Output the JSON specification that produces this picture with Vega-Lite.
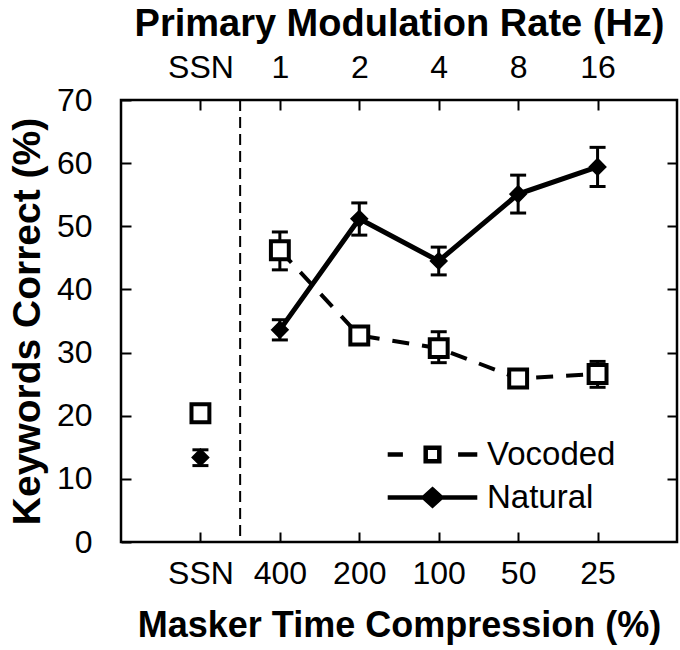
{
  "$schema": "https://vega.github.io/schema/vega-lite/v6.json",
  "width": 556,
  "height": 442,
  "autosize": "none",
  "padding": {"left": 121, "top": 100, "right": 3, "bottom": 108},
  "background": "white",
  "data": {
    "values": [
      {"type": "Vocoded", "pos": 1, "compression": "SSN", "rate": "SSN", "mean": 20.4, "lo": 19.6, "hi": 21.2},
      {"type": "Vocoded", "pos": 2, "compression": "400", "rate": "1", "mean": 46.2, "lo": 43.1, "hi": 49.1},
      {"type": "Vocoded", "pos": 3, "compression": "200", "rate": "2", "mean": 32.7, "lo": 31.7, "hi": 33.7},
      {"type": "Vocoded", "pos": 4, "compression": "100", "rate": "4", "mean": 30.7, "lo": 28.4, "hi": 33.3},
      {"type": "Vocoded", "pos": 5, "compression": "50", "rate": "8", "mean": 25.9, "lo": 24.9, "hi": 26.9},
      {"type": "Vocoded", "pos": 6, "compression": "25", "rate": "16", "mean": 26.6, "lo": 24.5, "hi": 28.6},
      {"type": "Natural", "pos": 1, "compression": "SSN", "rate": "SSN", "mean": 13.4, "lo": 12.1, "hi": 14.6},
      {"type": "Natural", "pos": 2, "compression": "400", "rate": "1", "mean": 33.6, "lo": 32.0, "hi": 35.2},
      {"type": "Natural", "pos": 3, "compression": "200", "rate": "2", "mean": 51.2, "lo": 48.6, "hi": 53.7},
      {"type": "Natural", "pos": 4, "compression": "100", "rate": "4", "mean": 44.5, "lo": 42.3, "hi": 46.7},
      {"type": "Natural", "pos": 5, "compression": "50", "rate": "8", "mean": 55.1, "lo": 52.1, "hi": 58.1},
      {"type": "Natural", "pos": 6, "compression": "25", "rate": "16", "mean": 59.4, "lo": 56.3, "hi": 62.5}
    ]
  },
  "layer": [
    {
      "data": {"values": [{"divider": "SSN | modulated"}]},
      "mark": {"type": "rule", "strokeDash": [11, 6], "strokeWidth": 2, "color": "black"},
      "encoding": {
        "x": {"datum": 1.5, "type": "quantitative", "axis": null}
      }
    },
    {
      "transform": [{"filter": "datum.type === 'Vocoded' && datum.pos >= 2"}],
      "mark": {"type": "line", "color": "black", "strokeWidth": 4, "strokeDash": [17, 13]},
      "encoding": {
        "x": {
          "field": "pos", "type": "quantitative",
          "scale": {"domain": [0, 7], "nice": false, "zero": false},
          "axis": {
            "orient": "bottom",
            "values": [1, 2, 3, 4, 5, 6],
            "labelExpr": "['','SSN','400','200','100','50','25'][datum.value]",
            "labelPadding": 26,
            "title": "Masker Time Compression (%)",
            "titleFontSize": 36,
            "titlePadding": 19
          }
        },
        "y": {
          "field": "mean", "type": "quantitative",
          "scale": {"domain": [0, 70], "nice": false},
          "axis": {
            "orient": "left",
            "values": [0, 10, 20, 30, 40, 50, 60, 70],
            "labelPadding": 39,
            "title": "Keywords Correct (%)",
            "titleFontSize": 39,
            "titlePadding": 9
          }
        }
      }
    },
    {
      "transform": [{"filter": "datum.type === 'Natural' && datum.pos >= 2"}],
      "mark": {"type": "line", "color": "black", "strokeWidth": 5},
      "encoding": {
        "x": {
          "field": "pos", "type": "quantitative",
          "scale": {"domain": [0, 7], "nice": false, "zero": false},
          "axis": {
            "orient": "top",
            "values": [1, 2, 3, 4, 5, 6],
            "labelExpr": "['','SSN','1','2','4','8','16'][datum.value]",
            "labelPadding": 26,
            "title": "Primary Modulation Rate (Hz)",
            "titleFontSize": 38,
            "titlePadding": 8
          }
        },
        "y": {
          "field": "mean", "type": "quantitative",
          "scale": {"domain": [0, 70], "nice": false},
          "axis": {
            "orient": "right",
            "values": [10, 20, 30, 40, 50, 60],
            "labels": false,
            "title": null
          }
        }
      }
    },
    {
      "mark": {"type": "rule", "color": "black", "strokeWidth": 3},
      "encoding": {
        "x": {"field": "pos", "type": "quantitative", "axis": null},
        "y": {"field": "lo", "type": "quantitative", "axis": null},
        "y2": {"field": "hi"}
      }
    },
    {
      "mark": {"type": "tick", "orient": "horizontal", "color": "black", "size": 16, "thickness": 3, "opacity": 1},
      "encoding": {
        "x": {"field": "pos", "type": "quantitative", "axis": null},
        "y": {"field": "lo", "type": "quantitative", "axis": null}
      }
    },
    {
      "mark": {"type": "tick", "orient": "horizontal", "color": "black", "size": 16, "thickness": 3, "opacity": 1},
      "encoding": {
        "x": {"field": "pos", "type": "quantitative", "axis": null},
        "y": {"field": "hi", "type": "quantitative", "axis": null}
      }
    },
    {
      "transform": [{"filter": "datum.type === 'Vocoded'"}],
      "mark": {"type": "point", "shape": "square", "filled": false, "fill": "white", "stroke": "black", "strokeWidth": 4, "size": 320, "opacity": 1},
      "encoding": {
        "x": {"field": "pos", "type": "quantitative", "axis": null},
        "y": {"field": "mean", "type": "quantitative", "axis": null}
      }
    },
    {
      "transform": [{"filter": "datum.type === 'Natural'"}],
      "mark": {"type": "point", "shape": "diamond", "filled": true, "fill": "black", "stroke": "black", "strokeWidth": 2, "size": 250, "opacity": 1},
      "encoding": {
        "x": {"field": "pos", "type": "quantitative", "axis": null},
        "y": {"field": "mean", "type": "quantitative", "axis": null}
      }
    },
    {
      "transform": [{"filter": "datum.pos === 1"}],
      "mark": {"type": "point", "filled": true, "strokeWidth": 4.5, "size": 0, "opacity": 1},
      "encoding": {
        "x": {"field": "pos", "type": "quantitative", "axis": null},
        "y": {"field": "mean", "type": "quantitative", "axis": null},
        "shape": {
          "field": "type", "type": "nominal",
          "scale": {
            "domain": ["Vocoded", "Natural"],
            "range": [
              "M-5.6,0L-3.7,0M3.2,0L5.6,0M-0.85,-0.85L0.85,-0.85L0.85,0.85L-0.85,0.85Z",
              "M-5.6,0L5.6,0M0,-1L1.1,0L0,1L-1.1,0Z"
            ]
          },
          "legend": {
            "orient": "none", "legendX": 295, "legendY": 338, "title": null,
            "labelFontSize": 33, "labelOffset": 38, "symbolSize": 256, "rowPadding": 8, "labelLimit": 0,
            "symbolStrokeWidth": 4.5
          }
        },
        "fill": {
          "field": "type", "type": "nominal",
          "scale": {"domain": ["Vocoded", "Natural"], "range": ["white", "black"]},
          "legend": {
            "orient": "none", "legendX": 295, "legendY": 338, "title": null,
            "labelFontSize": 33, "labelOffset": 38, "symbolSize": 256, "rowPadding": 8, "labelLimit": 0,
            "symbolStrokeWidth": 4.5
          }
        },
        "stroke": {
          "field": "type", "type": "nominal",
          "scale": {"domain": ["Vocoded", "Natural"], "range": ["black", "black"]},
          "legend": {
            "orient": "none", "legendX": 295, "legendY": 338, "title": null,
            "labelFontSize": 33, "labelOffset": 38, "symbolSize": 256, "rowPadding": 8, "labelLimit": 0,
            "symbolStrokeWidth": 4.5
          }
        }
      }
    }
  ],
  "resolve": {"axis": {"x": "independent", "y": "independent"}},
  "config": {
    "font": "Liberation Sans",
    "view": {"stroke": "black", "strokeWidth": 2.5},
    "axis": {
      "labelFont": "Liberation Sans",
      "labelFontSize": 32,
      "labelColor": "black",
      "tickColor": "black",
      "tickWidth": 2,
      "tickSize": -10,
      "domain": false,
      "grid": false,
      "titleFont": "Liberation Sans",
      "titleFontWeight": "bold",
      "titleColor": "black"
    },
    "legend": {
      "labelFont": "Liberation Sans",
      "labelColor": "black",
      "symbolStrokeWidth": 4.5
    }
  }
}
